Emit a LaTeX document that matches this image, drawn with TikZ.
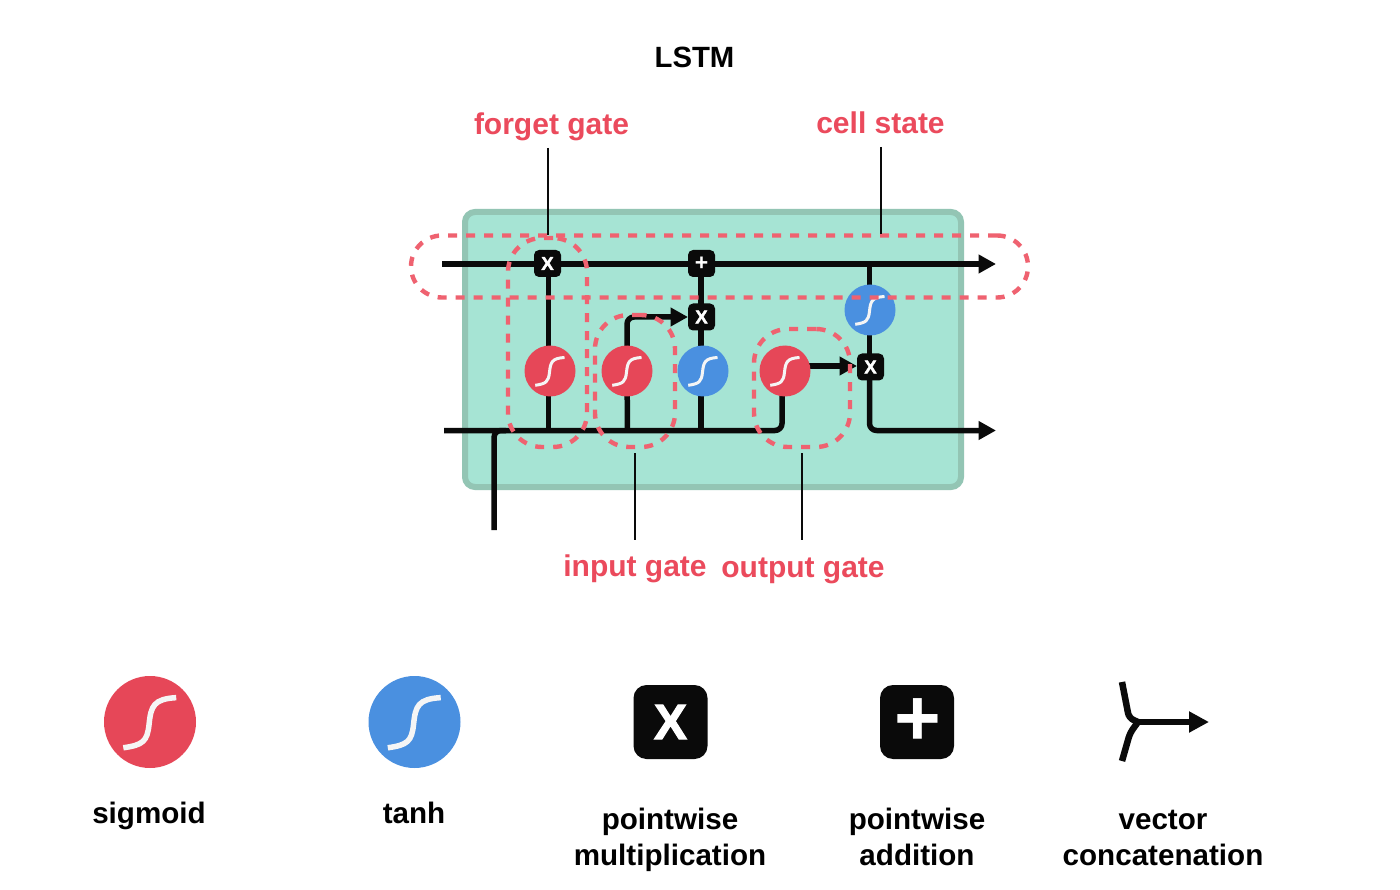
\documentclass[tikz,border=0pt]{standalone}
\usepackage{fontspec}
\setmainfont{Liberation Sans}
\newfontfamily\opfont[FakeBold=2.2]{Liberation Sans Bold}
\usetikzlibrary{arrows.meta,calc}
\definecolor{boxfill}{HTML}{A6E4D4}
\definecolor{boxedge}{HTML}{93C5B4}
\definecolor{sigred}{HTML}{E64758}
\definecolor{tanblue}{HTML}{4A90E0}
\definecolor{dashred}{HTML}{EF6270}
\definecolor{lblred}{HTML}{EB4A5C}
\definecolor{nearblack}{HTML}{0A0A0A}
\pgfdeclarelayer{backlayer}
\pgfdeclarelayer{wirelayer}
\pgfsetlayers{backlayer,wirelayer,main}
\tikzset{
  x=1pt,y=-1pt,
  wire/.style={line width=5.5pt,draw=nearblack,line join=round},
  bentwire/.style={wire,rounded corners=7pt},
  tipped/.style={-{Triangle[length=17.5pt,width=18pt]}},
  bigtipped/.style={-{Triangle[length=20pt,width=20pt]}},
  gatebox/.style={draw=dashred,line width=4.4pt,dash pattern=on 9pt off 9pt,rectangle,fill=none,inner sep=0pt,outer sep=0pt},
  leader/.style={draw=nearblack,line width=1.8pt},
  opsmall/.style={fill=nearblack,rectangle,rounded corners=5pt,minimum size=27pt,inner sep=0pt,outer sep=0pt,text=white,font=\opfont\fontsize{18.4}{19}\selectfont},
  plussmall/.style={opsmall,font=\bfseries\fontsize{23}{23}\selectfont},
  opbig/.style={fill=nearblack,rectangle,rounded corners=13pt,minimum size=74pt,inner sep=0pt,outer sep=0pt,text=white,font=\opfont\fontsize{49.5}{50}\selectfont},
  plusbig/.style={opbig,font=\bfseries\fontsize{80}{80}\selectfont},
  sigsmall/.style={circle,fill=sigred,minimum size=51pt,inner sep=0pt,outer sep=0pt},
  tansmall/.style={circle,fill=tanblue,minimum size=51pt,inner sep=0pt,outer sep=0pt},
  sigbig/.style={circle,fill=sigred,minimum size=92pt,inner sep=0pt,outer sep=0pt},
  tanbig/.style={circle,fill=tanblue,minimum size=92pt,inner sep=0pt,outer sep=0pt},
  redlabel/.style={text=lblred,font=\bfseries\fontsize{30}{34}\selectfont,inner sep=0pt},
  blacklabel/.style={text=black,align=center,font=\bfseries\fontsize{29.6}{36}\selectfont,inner sep=0pt},
  scurvesmall/.pic={
    \draw[draw=white!96!black,line width=3pt]
      (-0.58,0.56) .. controls (-0.15,0.5) and (-0.06,0.42) .. (-0.02,0.05)
      .. controls (0.02,-0.35) and (0.08,-0.5) .. (0.57,-0.53);
  },
  scurvebig/.pic={
    \draw[draw=white!96!black,line width=5.5pt]
      (-0.58,0.56) .. controls (-0.15,0.5) and (-0.06,0.42) .. (-0.02,0.05)
      .. controls (0.02,-0.35) and (0.08,-0.5) .. (0.57,-0.53);
  },
}
\begin{document}
\begin{tikzpicture}
\useasboundingbox (0,0) rectangle (1400,890);
\begin{pgfonlayer}{backlayer}
\fill[white] (0,0) rectangle (1400,890);
\node[rectangle,draw=boxedge,fill=boxfill,line width=6pt,rounded corners=10pt,minimum width=496pt,minimum height=275pt,inner sep=0pt,outer sep=0pt] (cell) at (713,349.5) {};
\end{pgfonlayer}

\node[text=black,font=\bfseries\fontsize{29.3}{34}\selectfont,inner sep=0pt] (title) at (694.5,57) {LSTM};

% operators and activations
\node[opsmall] (xforget) at (547.5,263.5) {X};
\node[plussmall] (plus) at (701.5,263.5) {\raisebox{-1.3pt}{+}};
\node[opsmall] (xinput) at (701.5,317) {X};
\node[opsmall] (xoutput) at (870.5,367) {X};
\node[sigsmall] (sigf) at (550,371) {};
\node[sigsmall] (sigi) at (627,371) {};
\node[tansmall] (tani) at (703,371) {};
\node[sigsmall] (sigo) at (785,371) {};
\node[tansmall] (tano) at (870,310) {};
\foreach \n in {sigf,sigi,tani,sigo,tano}{
  \pic[x=25.5pt,y=-25.5pt] at (\n) {scurvesmall};
}

\coordinate (cin) at (442,264);
\coordinate (cout) at (996,264);
\coordinate (hin) at (444,430.5);
\coordinate (xin) at (494,530);
\coordinate (hj) at (506,430.5);
\coordinate (hout) at (996,430.5);
\coordinate (fdrop) at (548.5,430.5);
\coordinate (idrop) at (627.5,430.5);
\coordinate (tdrop) at (701,430.5);
\coordinate (ftop) at (548.5,264);
\coordinate (ttop) at (701,264);
\coordinate (ctap) at (869.5,264);
\coordinate (clow) at (869.5,370);
\coordinate (otop) at (782,371);
\coordinate (sigoeast) at (785,366);

\begin{pgfonlayer}{wirelayer}
\draw[wire] (ftop) -- (fdrop);
\draw[wire] (ttop) -- (tdrop);
\draw[wire] (sigi.center) -- (idrop);
\draw[bentwire,tipped] (sigi.center) |- (xinput.west);
\draw[wire] (ctap) -- (clow);
\draw[bentwire,tipped] (clow) |- (hout);
\draw[bentwire] (xin) |- (hj);
\draw[bentwire] (hin) -| (otop);
\draw[wire,tipped] (sigoeast) -- (xoutput.west |- sigoeast);
\draw[wire,tipped] (cin) -- (cout);
\end{pgfonlayer}

% dashed groupings
\node[gatebox,rounded corners=31pt,minimum width=617pt,minimum height=62pt] (gcell) at (719.5,266.5) {};
\node[gatebox,rounded corners=34pt,minimum width=79pt,minimum height=209pt] (gforget) at (547.5,342.5) {};
\node[gatebox,rounded corners=34pt,minimum width=80pt,minimum height=132pt] (ginput) at (635,381) {};
\node[gatebox,rounded corners=34pt,minimum width=96pt,minimum height=118pt] (goutput) at (802,388) {};

% labels and leaders
\node[redlabel] (lforget) at (551.5,127) {forget gate};
\node[redlabel] (lcell) at (880.5,123) {cell state};
\node[redlabel] (linput) at (635,569) {input gate};
\node[redlabel] (loutput) at (803,571) {output gate};
\coordinate (f1) at (548,148); \coordinate (f2) at (548,235);
\coordinate (c1) at (881,147); \coordinate (c2) at (881,234);
\coordinate (i1) at (635,453); \coordinate (i2) at (635,540);
\coordinate (o1) at (802,453); \coordinate (o2) at (802,540);
\draw[leader] (f1) -- (f2);
\draw[leader] (c1) -- (c2);
\draw[leader] (i1) -- (i2);
\draw[leader] (o1) -- (o2);

% legend
\node[sigbig] (legsig) at (150,722) {};
\pic[x=46pt,y=-46pt] at (legsig) {scurvebig};
\node[tanbig] (legtan) at (414.5,722) {};
\pic[x=46pt,y=-46pt] at (legtan) {scurvebig};
\node[opbig] (legx) at (670.5,722) {X};
\node[plusbig] (legp) at (917,722) {\raisebox{-5pt}{\hspace{1pt}+}};
\coordinate (ca) at (1122,682);
\coordinate (cb) at (1122,761);
\coordinate (cj) at (1136,722);
\coordinate (ce) at (1209,722);
\draw[line width=6.5pt,draw=nearblack,rounded corners=5pt] (ca) -- (1129,718) -- (1138,722);
\draw[line width=6.5pt,draw=nearblack,rounded corners=5pt] (cb) -- (1130,733) -- (1138,722);
\draw[line width=6pt,draw=nearblack,bigtipped] (cj) -- (ce);

\node[blacklabel] (tsig) at (149,815.5) {sigmoid};
\node[blacklabel] (ttan) at (414,813) {tanh};
\node[blacklabel] (tmul) at (670,840) {pointwise\\multiplication};
\node[blacklabel] (tadd) at (917,837) {pointwise\\addition};
\node[blacklabel] (tcat) at (1163,838) {vector\\concatenation};
\end{tikzpicture}
\end{document}
